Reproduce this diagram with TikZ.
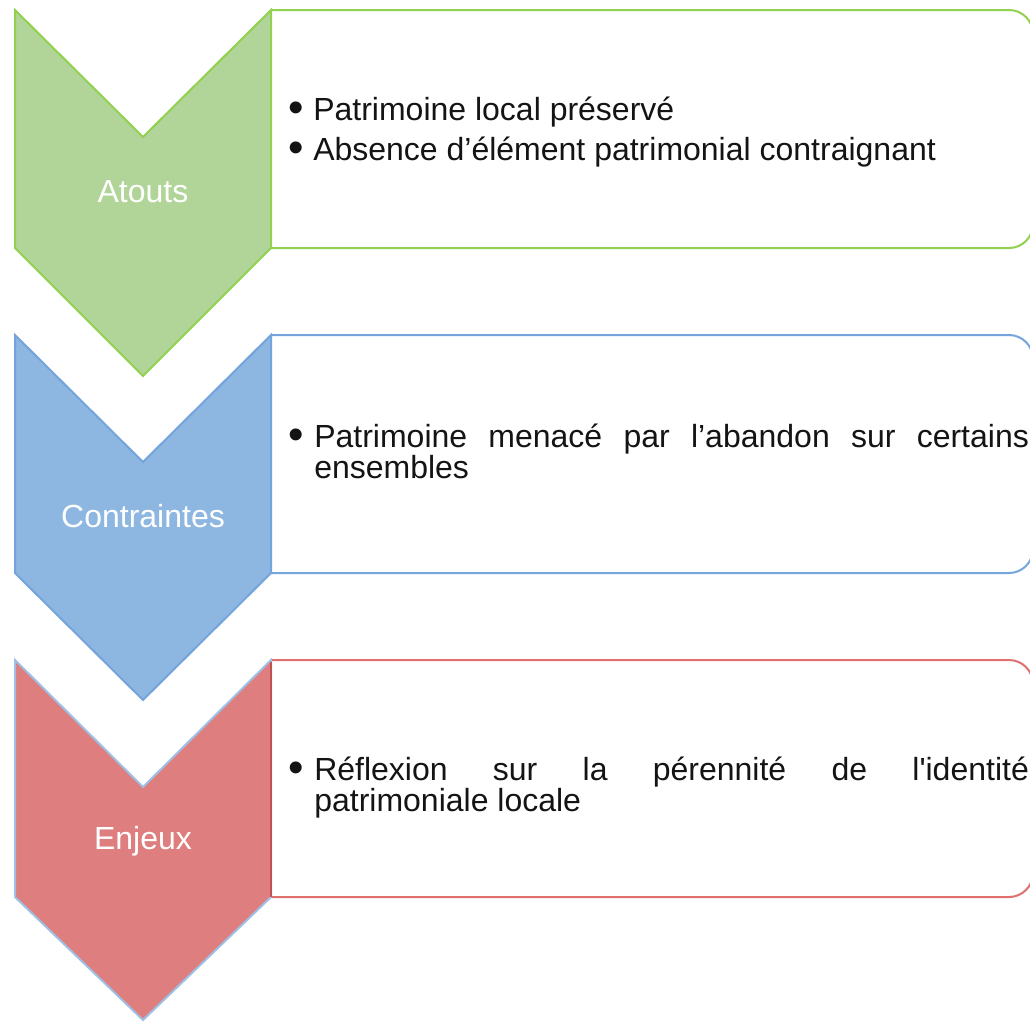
\documentclass[tikz,border=0pt]{standalone}
\usepackage{fontspec}
\setmainfont{Liberation Sans}
\definecolor{gfill}{RGB}{177,213,152}
\definecolor{gline}{RGB}{146,208,80}
\definecolor{bfill}{RGB}{141,182,224}
\definecolor{bline}{RGB}{116,164,220}
\definecolor{rfill}{RGB}{222,126,126}
\definecolor{rline}{RGB}{224,112,112}
\definecolor{rdark}{RGB}{190,82,80}
\definecolor{txt}{RGB}{20,20,20}
\begin{document}
\begin{tikzpicture}[x=0.75pt,y=-0.75pt,
  chev/.style={line width=1.5pt,line join=miter},
  listbox/.style={line width=1.5pt,rounded corners=18pt,fill=white},
  lab/.style={text=white,font=\fontsize{24}{28}\selectfont,inner sep=0pt},
  bul/.style={text=txt,font=\fontsize{33}{28}\selectfont,inner sep=0pt,anchor=base},
  item/.style={text=txt,font=\fontsize{24}{23.5}\selectfont,inner sep=0pt,anchor=base west},
  para/.style={item,text width=536pt,align=justify}]
\useasboundingbox (0,0) rectangle (1030,1022);
\fill[white] (0,0) rectangle (1030,1022);
% ---------- Atouts ----------
\draw[listbox,draw=gline] (271,10) -- (1033,10) -- (1033,248) -- (271,248);
\draw[chev,draw=gline,fill=gfill] (15,10) -- (143,137) -- (271,10) -- (271,248) -- (143,376) -- (15,248) -- cycle;
\node[lab] (atouts) at (143,192) {Atouts};
\node[bul] (b1) at (296,122) {•};
\node[item] (t1) at (313,120) {Patrimoine local préservé};
\node[bul] (b2) at (296,162) {•};
\node[item] (t2) at (313,160) {Absence d’élément patrimonial contraignant};
% ---------- Contraintes ----------
\draw[listbox,draw=bline] (271,335) -- (1033,335) -- (1033,573) -- (271,573);
\draw[chev,draw=bline,fill=bfill] (15,335) -- (143,462) -- (271,335) -- (271,573) -- (143,700) -- (15,573) -- cycle;
\node[lab] (contraintes) at (143,516) {Contraintes};
\node[bul] (b3) at (296,449) {•};
\node[para] (t3) at (314,447) {Patrimoine menacé par l’abandon sur certains\linebreak ensembles};
% ---------- Enjeux ----------
\draw[listbox,draw=rline] (271,660) -- (1033,660) -- (1033,897) -- (271,897);
\draw[chev,draw=bline!70,fill=rfill] (15,660) -- (143,787) -- (271,660) -- (271,897) -- (143,1020) -- (15,897) -- cycle;
\draw[line width=1.5pt,draw=rdark] (271,662) -- (271,897);
\node[lab] (enjeux) at (143,841) {Enjeux};
\node[bul] (b4) at (296,782) {•};
\node[para] (t4) at (314,780) {Réflexion sur la pérennité de l\textquotesingle identité\linebreak patrimoniale locale};
\end{tikzpicture}
\end{document}
